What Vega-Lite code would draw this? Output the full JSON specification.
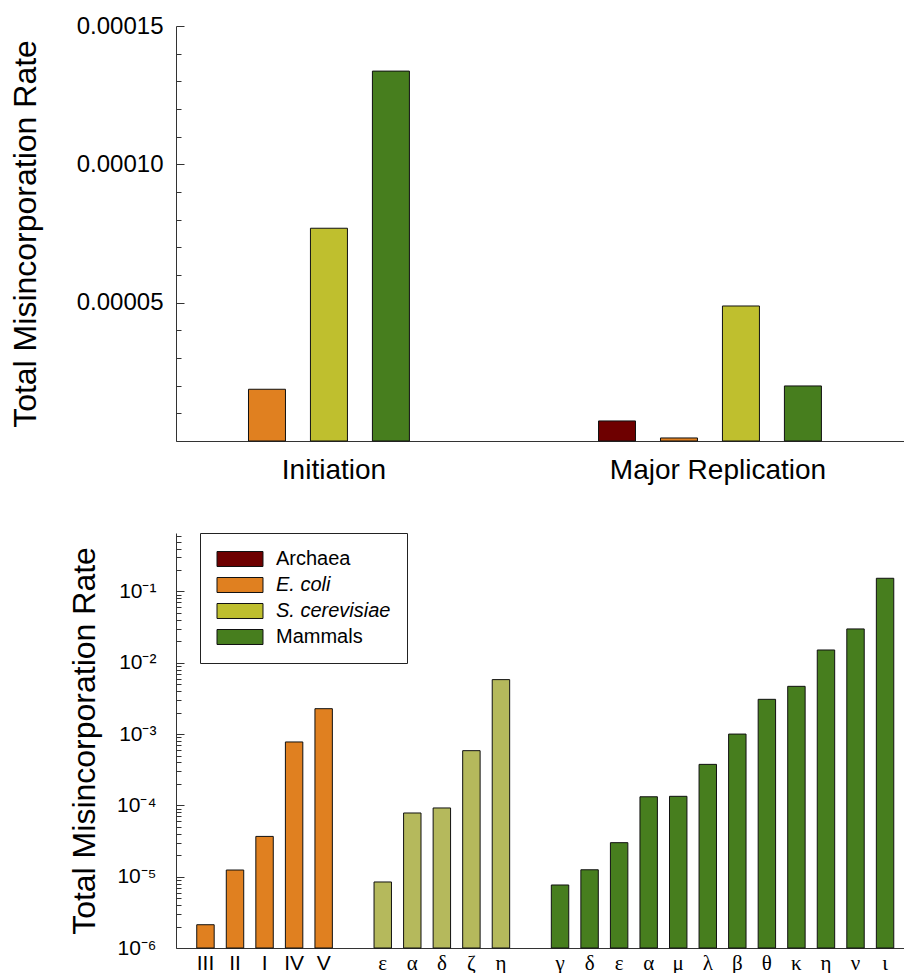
{
  "$schema": "https://vega.github.io/schema/vega-lite/v6.json",
  "padding": {"left": 9, "top": 14, "right": 0, "bottom": 0},
  "background": "white",
  "spacing": 48,
  "config": {
    "view": {"stroke": null},
    "font": "Liberation Sans",
    "axis": {"domainColor": "#333", "tickColor": "#333", "labelColor": "#000", "titleColor": "#000", "grid": false, "labelFont": "Liberation Sans", "titleFont": "Liberation Sans", "titleFontWeight": "normal"}
  },
  "resolve": {"legend": {"color": "independent"}},
  "vconcat": [
    {
      "width": 728,
      "height": 415,
      "data": {"values": [
        {"phase": "Initiation", "org": "E. coli", "rate": 0.0000187},
        {"phase": "Initiation", "org": "S. cerevisiae", "rate": 0.0000769},
        {"phase": "Initiation", "org": "Mammals", "rate": 0.0001337},
        {"phase": "Major Replication", "org": "Archaea", "rate": 0.00000725},
        {"phase": "Major Replication", "org": "E. coli", "rate": 0.0000011},
        {"phase": "Major Replication", "org": "S. cerevisiae", "rate": 0.0000488},
        {"phase": "Major Replication", "org": "Mammals", "rate": 0.0000199}
      ]},
      "mark": {"type": "bar", "stroke": "#111", "strokeWidth": 1},
      "encoding": {
        "x": {"field": "phase", "type": "nominal", "sort": ["Initiation", "Major Replication"],
          "scale": {"paddingInner": 0.459, "paddingOuter": 0.113, "align": 0.113},
          "axis": {"title": null, "labelAngle": 0, "ticks": false, "labelFontSize": 28, "labelPadding": 15, "labelLimit": 400,
            "labelOffset": {"condition": {"test": "datum.value === 'Initiation'", "value": 36}, "value": 8}}},
        "xOffset": {"field": "org", "type": "nominal",
          "scale": {"domain": ["Archaea", "E. coli", "S. cerevisiae", "Mammals"], "paddingInner": 0.403, "paddingOuter": 0}},
        "y": {"field": "rate", "type": "quantitative",
          "scale": {"domain": [0, 0.00015], "nice": false},
          "axis": {"title": "Total Misincorporation Rate", "titleFontSize": 32, "titlePadding": 34,
            "labelFontSize": 24, "labelPadding": 21,
            "values": [0, 0.00001, 0.00002, 0.00003, 0.00004, 0.00005, 0.00006, 0.00007, 0.00008, 0.00009, 0.0001, 0.00011, 0.00012, 0.00013, 0.00014, 0.00015],
            "labelExpr": "(datum.value == 0.00005 || datum.value == 0.0001 || datum.value == 0.00015) ? format(datum.value, '.5f') : ''",
            "tickSize": {"condition": {"test": "datum.value == 0.00005 || datum.value == 0.0001 || datum.value == 0.00015", "value": -8}, "value": -5}}},
        "color": {"field": "org", "type": "nominal",
          "scale": {"domain": ["Archaea", "E. coli", "S. cerevisiae", "Mammals"], "range": ["#6E0000", "#E08020", "#BFBF2E", "#477E1E"]},
          "legend": null}
      }
    },
    {
      "width": 728,
      "height": 415,
      "data": {"values": [
        {"key": "E|III", "org": "E. coli", "rate": 0.00000212},
        {"key": "E|II", "org": "E. coli", "rate": 0.0000124},
        {"key": "E|I", "org": "E. coli", "rate": 0.0000367},
        {"key": "E|IV", "org": "E. coli", "rate": 0.000775},
        {"key": "E|V", "org": "E. coli", "rate": 0.00227},
        {"key": "S|ε", "org": "S. cerevisiae", "rate": 0.00000843},
        {"key": "S|α", "org": "S. cerevisiae", "rate": 0.0000782},
        {"key": "S|δ", "org": "S. cerevisiae", "rate": 0.000092},
        {"key": "S|ζ", "org": "S. cerevisiae", "rate": 0.000585},
        {"key": "S|η", "org": "S. cerevisiae", "rate": 0.0058},
        {"key": "M|γ", "org": "Mammals", "rate": 0.00000765},
        {"key": "M|δ", "org": "Mammals", "rate": 0.0000125},
        {"key": "M|ε", "org": "Mammals", "rate": 0.00003},
        {"key": "M|α", "org": "Mammals", "rate": 0.000132},
        {"key": "M|μ", "org": "Mammals", "rate": 0.000134},
        {"key": "M|λ", "org": "Mammals", "rate": 0.000376},
        {"key": "M|β", "org": "Mammals", "rate": 0.001},
        {"key": "M|θ", "org": "Mammals", "rate": 0.00307},
        {"key": "M|κ", "org": "Mammals", "rate": 0.00467},
        {"key": "M|η", "org": "Mammals", "rate": 0.0151},
        {"key": "M|ν", "org": "Mammals", "rate": 0.0298},
        {"key": "M|ι", "org": "Mammals", "rate": 0.153}
      ]},
      "mark": {"type": "bar", "stroke": "#111", "strokeWidth": 1},
      "encoding": {
        "x": {"field": "key", "type": "nominal", "sort": null,
          "scale": {"domain": ["E|III", "E|II", "E|I", "E|IV", "E|V", "gap1", "S|ε", "S|α", "S|δ", "S|ζ", "S|η", "gap2", "M|γ", "M|δ", "M|ε", "M|α", "M|μ", "M|λ", "M|β", "M|θ", "M|κ", "M|η", "M|ν", "M|ι"],
            "paddingInner": 0.41, "paddingOuter": 0.524, "align": 0.67},
          "axis": {"title": null, "labelAngle": 0, "ticks": false, "labelFontSize": 21, "labelPadding": 4,
            "labelExpr": "indexof(datum.value, '|') > 0 ? split(datum.value, '|')[1] : ''",
            "labelFont": {"condition": {"test": "indexof(datum.value, 'E|') === 0", "value": "Liberation Sans"}, "value": "Liberation Serif"}}},
        "y": {"field": "rate", "type": "quantitative",
          "scale": {"type": "log", "domain": [0.000001, 0.66], "nice": false},
          "axis": {"title": "Total Misincorporation Rate", "titleFontSize": 32, "titlePadding": 15,
            "labelFontSize": 21, "labelPadding": 28,
            "values": [0.000001, 0.000002, 0.000003, 0.000004, 0.000005, 0.000006, 0.000007, 0.000008, 0.000009,
              0.00001, 0.00002, 0.00003, 0.00004, 0.00005, 0.00006, 0.00007, 0.00008, 0.00009,
              0.0001, 0.0002, 0.0003, 0.0004, 0.0005, 0.0006, 0.0007, 0.0008, 0.0009,
              0.001, 0.002, 0.003, 0.004, 0.005, 0.006, 0.007, 0.008, 0.009,
              0.01, 0.02, 0.03, 0.04, 0.05, 0.06, 0.07, 0.08, 0.09,
              0.1, 0.2, 0.3, 0.4, 0.5, 0.6],
            "labelExpr": "format(datum.value, '.0e') === '1e-6' ? '10⁻⁶' : format(datum.value, '.0e') === '1e-5' ? '10⁻⁵' : format(datum.value, '.0e') === '1e-4' ? '10⁻⁴' : format(datum.value, '.0e') === '1e-3' ? '10⁻³' : format(datum.value, '.0e') === '1e-2' ? '10⁻²' : format(datum.value, '.0e') === '1e-1' ? '10⁻¹' : ''",
            "tickSize": {"condition": {"test": "indexof(format(datum.value, '.0e'), '1e') === 0", "value": -8}, "value": -5}}},
        "y2": {"datum": 0.000001},
        "color": {"field": "org", "type": "nominal",
          "scale": {"domain": ["Archaea", "E. coli", "S. cerevisiae", "Mammals"], "range": ["#6E0000", "#E08020", "#BFBF2E", "#477E1E"]},
          "condition": {"test": "datum.org === 'S. cerevisiae'", "value": "#B5B95C"},
          "legend": {"title": null, "orient": "none", "legendX": 24, "legendY": 0, "direction": "vertical",
            "symbolType": "M-1,-0.833H4.11V0.833H-1Z", "symbolSize": 324, "symbolStrokeColor": "#111", "symbolStrokeWidth": 1,
            "labelFontSize": 20, "labelFont": "Liberation Sans", "labelColor": "#000", "labelOffset": 40, "labelLimit": 300,
            "padding": 16, "rowPadding": 6, "strokeColor": "#222", "fillColor": "white",
            "encode": {"labels": {"update": {"fontStyle": {"signal": "datum.value === 'E. coli' || datum.value === 'S. cerevisiae' ? 'italic' : 'normal'"}}}}}}
      }
    }
  ]
}
